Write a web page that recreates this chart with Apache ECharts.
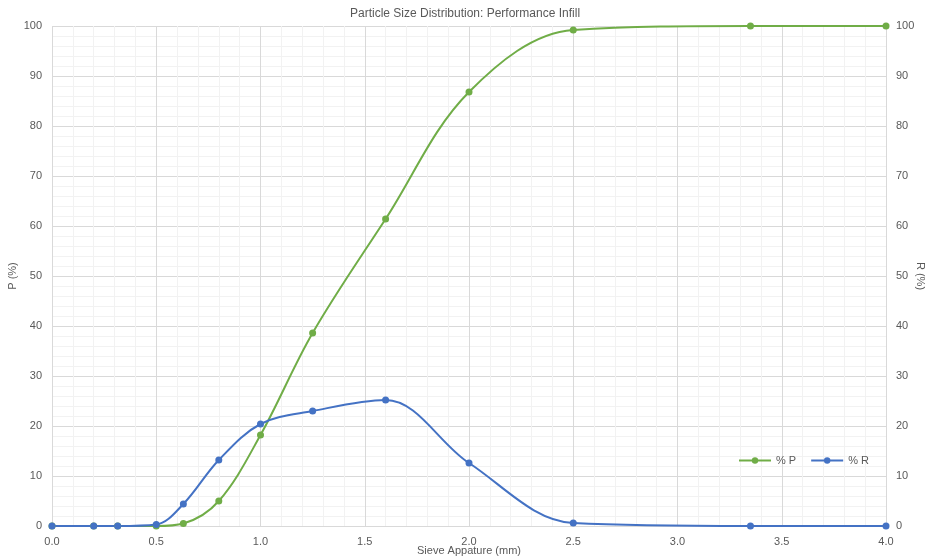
<!DOCTYPE html>
<html>
<head>
<meta charset="utf-8">
<script src="https://cdn.jsdelivr.net/npm/echarts@6/dist/echarts.min.js"></script>
<style>
  html, body { margin: 0; padding: 0; background: #fff; }
  #chart { width: 930px; height: 556px; }
</style>
</head>
<body>
<div id="chart"></div>
<script>
// sieve sizes (mm)
const sieveP = [0, 0.2, 0.315, 0.5, 0.63, 0.8, 1.0, 1.25, 1.6, 2.0, 2.5, 3.35, 4.0]
const passing = [0, 0, 0, 0, 0.5, 5, 18.2, 38.6, 61.4, 86.8, 99.2, 100, 100]
const sieveR = [0, 0.2, 0.315, 0.5, 0.63, 0.8, 1.0, 1.25, 1.6, 2.0, 2.5, 3.35, 4.0]
const retained = [0, 0, 0, 0.3, 4.4, 13.2, 20.4, 23, 25.2, 12.6, 0.6, 0, 0]

const green = '#70ad47'
const blue = '#4472c4'
const textColor = '#595959'
const font = 'Liberation Sans, Arial, sans-serif'

const chart = echarts.init(document.getElementById('chart'))

const yAxisBase = {
  type: 'value',
  min: 0,
  max: 100,
  interval: 10,
  nameLocation: 'middle',
  nameMoveOverlap: false,
  nameTextStyle: { color: textColor, fontSize: 11, fontFamily: font },
  axisLine: { show: false },
  axisTick: { show: false },
  axisLabel: { color: textColor, fontSize: 11, fontFamily: font, margin: 10 },
}

const option = {
  animation: false,
  title: {
    text: 'Particle Size Distribution: Performance Infill',
    left: 'center',
    top: 3,
    textStyle: { color: textColor, fontSize: 12, fontWeight: 'normal', fontFamily: font },
  },
  legend: {
    left: 733,
    top: 450,
    itemWidth: 32,
    itemHeight: 8,
    itemGap: 14,
    textStyle: { color: textColor, fontSize: 11, fontFamily: font },
    data: ['% P', '% R'],
  },
  grid: { left: 52, right: 44, top: 26, bottom: 30, outerBoundsMode: 'none' },
  xAxis: {
    type: 'value',
    min: 0,
    max: 4,
    interval: 0.5,
    name: 'Sieve Appature (mm)',
    nameLocation: 'middle',
    nameGap: 19,
    nameMoveOverlap: false,
    nameTextStyle: { color: textColor, fontSize: 11, fontFamily: font },
    axisLine: { show: false },
    axisTick: { show: false },
    axisLabel: {
      color: textColor, fontSize: 11, fontFamily: font, margin: 10,
      formatter: v => v.toFixed(1),
    },
    splitLine: { show: true, lineStyle: { color: '#d9d9d9', width: 1 } },
    minorTick: { show: false, splitNumber: 5 },
    minorSplitLine: { show: true, lineStyle: { color: '#f2f2f2', width: 1 } },
  },
  yAxis: [
    Object.assign({}, yAxisBase, {
      name: 'P (%)',
      position: 'left',
      nameGap: 34,
      splitLine: { show: true, lineStyle: { color: '#d9d9d9', width: 1 } },
      minorTick: { show: false, splitNumber: 5 },
      minorSplitLine: { show: true, lineStyle: { color: '#f2f2f2', width: 1 } },
    }),
    Object.assign({}, yAxisBase, {
      name: 'R (%)',
      position: 'right',
      nameRotate: -90,
      nameGap: 29,
      splitLine: { show: false },
    }),
  ],
  series: [
    {
      name: '% P',
      type: 'line',
      yAxisIndex: 0,
      data: sieveP.map((x, i) => [x, passing[i]]),
      smooth: 0.35,
      symbol: 'circle',
      symbolSize: 7,
      itemStyle: { color: green },
      lineStyle: { color: green, width: 2 },
    },
    {
      name: '% R',
      type: 'line',
      yAxisIndex: 1,
      data: sieveR.map((x, i) => [x, retained[i]]),
      smooth: 0.35,
      symbol: 'circle',
      symbolSize: 7,
      itemStyle: { color: blue },
      lineStyle: { color: blue, width: 2 },
    },
  ],
}

chart.setOption(option)
</script>
</body>
</html>
